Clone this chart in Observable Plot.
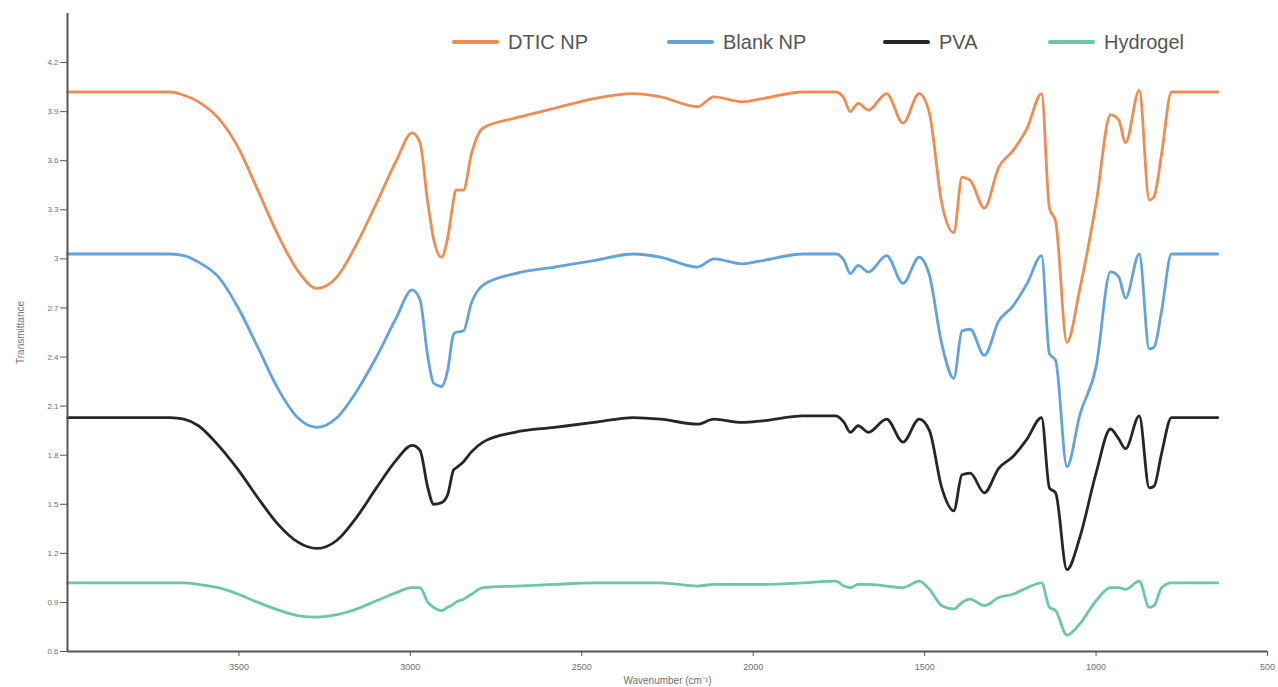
<!DOCTYPE html>
<html>
<head>
<meta charset="utf-8">
<script src="https://cdn.jsdelivr.net/npm/d3@7"></script>
<script src="https://cdn.jsdelivr.net/npm/@observablehq/plot@0.6"></script>
<style>
  html, body { margin: 0; padding: 0; background: #fff; }
  #wrap { position: relative; width: 1278px; height: 687px; overflow: hidden; }
  .legend { position: absolute; top: 0; left: 0; width: 1278px; height: 0; font-family: "Liberation Sans", Arial, sans-serif; }
  .item { position: absolute; top: 30px; display: flex; align-items: center; height: 24px; }
  .swatch { width: 47px; height: 4px; border-radius: 2px; margin-right: 9px; }
  .lab { font-size: 20px; color: #555; white-space: nowrap; }
</style>
</head>
<body>
<div id="wrap"></div>
<script>
// Wavenumbers (cm-1), shared by all spectra
const wavenumber = [4000, 3700, 3660, 3618, 3560, 3502, 3445, 3387, 3329, 3272, 3214,
  3157, 3099, 3041, 2995, 2972, 2949, 2932, 2909, 2891, 2874,
  2868, 2845, 2822, 2788, 2695, 2580, 2465, 2349, 2270, 2162,
  2115, 2032, 1973, 1854, 1759, 1735, 1717, 1694, 1664, 1611,
  1563, 1516, 1486, 1450, 1415, 1391, 1367, 1326, 1284, 1243,
  1201, 1159, 1136, 1118, 1085, 1047, 1000, 958, 934, 914,
  874, 845, 831, 809, 780, 645];

const dticNP = [4.02, 4.02, 4.00, 3.96, 3.86, 3.68, 3.42, 3.15, 2.93, 2.82, 2.89,
  3.09, 3.34, 3.60, 3.77, 3.71, 3.34, 3.12, 3.01, 3.13, 3.36,
  3.42, 3.42, 3.64, 3.80, 3.86, 3.92, 3.98, 4.01, 3.99, 3.93,
  3.99, 3.96, 3.98, 4.02, 4.02, 3.98, 3.90, 3.95, 3.91, 4.01,
  3.83, 4.01, 3.89, 3.34, 3.16, 3.50, 3.48, 3.31, 3.56, 3.66,
  3.80, 4.01, 3.31, 3.23, 2.49, 2.82, 3.34, 3.88, 3.85, 3.71,
  4.03, 3.36, 3.38, 3.64, 4.02, 4.02];

const blankNP = [3.03, 3.03, 3.02, 2.98, 2.89, 2.70, 2.46, 2.21, 2.03, 1.97, 2.03,
  2.19, 2.40, 2.64, 2.81, 2.75, 2.40, 2.24, 2.22, 2.32, 2.54,
  2.55, 2.56, 2.73, 2.84, 2.91, 2.95, 2.99, 3.03, 3.01, 2.95,
  3.00, 2.97, 2.99, 3.03, 3.03, 2.99, 2.91, 2.96, 2.92, 3.02,
  2.85, 3.01, 2.90, 2.48, 2.27, 2.56, 2.57, 2.41, 2.62, 2.71,
  2.85, 3.02, 2.42, 2.38, 1.73, 2.05, 2.34, 2.92, 2.89, 2.76,
  3.03, 2.45, 2.46, 2.68, 3.03, 3.03];

const pva = [2.03, 2.03, 2.02, 1.98, 1.86, 1.71, 1.54, 1.38, 1.27, 1.23, 1.28,
  1.42, 1.60, 1.77, 1.86, 1.83, 1.60, 1.50, 1.51, 1.56, 1.71,
  1.72, 1.76, 1.82, 1.88, 1.94, 1.97, 2.00, 2.03, 2.02, 1.99,
  2.02, 2.00, 2.01, 2.04, 2.04, 2.00, 1.94, 1.98, 1.94, 2.02,
  1.88, 2.02, 1.95, 1.60, 1.46, 1.68, 1.69, 1.57, 1.72, 1.79,
  1.90, 2.03, 1.60, 1.57, 1.10, 1.30, 1.69, 1.96, 1.90, 1.84,
  2.04, 1.60, 1.61, 1.81, 2.03, 2.03];

const hydrogel = [1.02, 1.02, 1.02, 1.01, 0.99, 0.95, 0.90, 0.855, 0.82, 0.81, 0.825,
  0.86, 0.91, 0.96, 0.99, 0.99, 0.90, 0.87, 0.85, 0.87, 0.89,
  0.90, 0.92, 0.95, 0.99, 1.00, 1.01, 1.02, 1.02, 1.02, 1.00,
  1.01, 1.01, 1.01, 1.02, 1.03, 1.00, 0.99, 1.01, 1.01, 1.00,
  0.99, 1.03, 0.98, 0.88, 0.86, 0.90, 0.92, 0.88, 0.93, 0.95,
  0.99, 1.02, 0.87, 0.85, 0.70, 0.77, 0.91, 0.99, 0.99, 0.98,
  1.03, 0.87, 0.88, 0.99, 1.02, 1.02];

const seriesNames = ["DTIC NP", "Blank NP", "PVA", "Hydrogel"];
const seriesColors = ["#ef8c52", "#62a3da", "#262626", "#6cc6a8"];
const seriesValues = [dticNP, blankNP, pva, hydrogel];

const xTicks = [3500, 3000, 2500, 2000, 1500, 1000, 500];
const yTicks = [0.6, 0.9, 1.2, 1.5, 1.8, 2.1, 2.4, 2.7, 3, 3.3, 3.6, 3.9, 4.2];
const xLabel = "Wavenumber (cm⁻¹)";
const yLabel = "Transmittance";

const rows = [];
seriesNames.forEach((name, i) => {
  wavenumber.forEach((w, j) => rows.push({w, t: seriesValues[i][j], series: name}));
});

const chart = Plot.plot({
  width: 1278,
  height: 687,
  marginLeft: 67,
  marginRight: 11,
  marginTop: 13,
  marginBottom: 36,
  style: {background: "white", fontFamily: "'Liberation Sans', Arial, sans-serif"},
  x: {domain: [4000, 500]},
  y: {domain: [0.6, 4.5]},
  color: {domain: seriesNames, range: seriesColors},
  marks: [
    Plot.axisX({ticks: xTicks, tickFormat: d => String(d), tickSize: 5, tickPadding: 7,
      fontSize: 9, stroke: "#555", fill: "#707070", label: null}),
    Plot.axisY({ticks: yTicks, tickFormat: d => String(d), tickSize: 7, tickPadding: 2,
      fontSize: 8, stroke: "#555", fill: "#707070", label: null}),
    Plot.text([xLabel], {frameAnchor: "bottom", lineAnchor: "top", dy: 25, fontSize: 10, fill: "#707070"}),
    Plot.text([yLabel], {frameAnchor: "left", textAnchor: "middle", rotate: -90, dx: -47, fontSize: 10, fill: "#777"}),
    Plot.line(rows, {x: "w", y: "t", z: "series", stroke: "series", strokeWidth: 2.8,
      curve: "monotone-x", strokeLinejoin: "round"}),
    Plot.ruleX([4000], {stroke: "#555", strokeWidth: 2}),
    Plot.ruleY([0.6], {stroke: "#555", strokeWidth: 2})
  ]
});

const wrap = document.getElementById("wrap");
wrap.appendChild(chart);

// Legend (HTML overlay inside the plot area, top right)
const legendLeft = [452, 667, 883, 1048];
const legend = document.createElement("div");
legend.className = "legend";
seriesNames.forEach((name, i) => {
  const item = document.createElement("div");
  item.className = "item";
  item.style.left = legendLeft[i] + "px";
  const sw = document.createElement("div");
  sw.className = "swatch";
  sw.style.background = seriesColors[i];
  const lab = document.createElement("span");
  lab.className = "lab";
  lab.textContent = name;
  item.appendChild(sw);
  item.appendChild(lab);
  legend.appendChild(item);
});
wrap.appendChild(legend);
</script>
</body>
</html>
